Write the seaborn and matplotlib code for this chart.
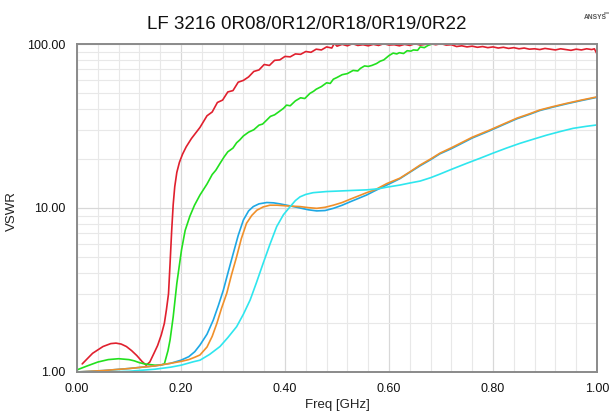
import numpy as np
import pandas as pd
import matplotlib
matplotlib.use("Agg")
import matplotlib.pyplot as plt
import matplotlib.ticker as mticker
from matplotlib.patches import Rectangle
import seaborn as sns

# ---- VSWR sweeps of the five inductor values ----
freq_0r08 = [0.01, 0.03, 0.05, 0.065, 0.075, 0.085, 0.095, 0.105, 0.115, 0.125, 0.133, 0.14,
             0.148, 0.155, 0.162, 0.168, 0.172, 0.176, 0.179, 0.182, 0.185, 0.188, 0.192,
             0.197, 0.203, 0.21, 0.22, 0.2365, 0.25, 0.26, 0.27, 0.28, 0.29, 0.30, 0.31,
             0.32, 0.33, 0.34, 0.35, 0.36, 0.37, 0.38, 0.39, 0.40, 0.41, 0.42, 0.43, 0.44,
             0.45, 0.46, 0.47, 0.48, 0.49, 0.495, 0.50, 0.51, 0.52, 0.53, 0.54, 0.55, 0.56,
             0.57, 0.58, 0.59, 0.60, 0.61, 0.62, 0.63, 0.64, 0.65, 0.66, 0.67, 0.68, 0.69,
             0.70, 0.71, 0.72, 0.73, 0.74, 0.75, 0.76, 0.77, 0.78, 0.79, 0.80, 0.81, 0.82,
             0.83, 0.84, 0.85, 0.86, 0.87, 0.88, 0.89, 0.90, 0.91, 0.92, 0.93, 0.94, 0.95,
             0.96, 0.97, 0.98, 0.99, 0.995, 1.0]
vswr_0r08 = [1.12, 1.30, 1.43, 1.49, 1.50, 1.48, 1.43, 1.35, 1.26, 1.16, 1.10, 1.15,
             1.30, 1.45, 1.68, 1.98, 2.4, 3.0, 4.6, 7.2, 10.5, 13.5, 16.5,
             19.0, 21.3, 23.6, 26.5, 31.0, 36.5, 38.5, 44.0, 45.5, 51.0, 52.0, 58.5,
             60.0, 63.0, 68.0, 69.5, 75.0, 74.0, 79.5, 80.0, 84.0, 83.5, 87.0, 86.5, 90.0,
             89.0, 93.0, 92.0, 96.0, 94.5, 101.0, 97.0, 99.5, 97.5, 100.5, 98.0, 99.0, 97.5,
             99.5, 98.0, 100.5, 98.5, 99.0, 97.5, 99.5, 98.0, 100.5, 98.5, 99.5, 100.5, 99.0,
             100.5, 98.5, 99.0, 96.5, 97.5, 96.0, 97.0, 95.5, 96.5, 95.0, 96.0, 94.5, 95.5,
             94.0, 95.0, 93.5, 94.5, 93.0, 93.5, 92.5, 94.0, 93.0, 92.0, 93.5, 92.5, 91.5,
             93.0, 92.0, 93.5, 92.5, 93.5, 87.0]

freq_0r12 = [0.0, 0.02, 0.04, 0.06, 0.08, 0.10, 0.11, 0.12, 0.13, 0.14, 0.15, 0.16, 0.168,
             0.175, 0.179, 0.185, 0.192, 0.201, 0.208, 0.217, 0.226, 0.2365, 0.25, 0.26, 0.267,
             0.275, 0.283, 0.29, 0.30, 0.307, 0.313, 0.32, 0.33, 0.34, 0.35, 0.357, 0.365,
             0.372, 0.38, 0.39, 0.397, 0.403, 0.41, 0.42, 0.43, 0.438, 0.448, 0.455, 0.46,
             0.47, 0.48, 0.487, 0.493, 0.50, 0.51, 0.52, 0.531, 0.54, 0.545, 0.553, 0.56,
             0.567, 0.576, 0.583, 0.59, 0.60, 0.608, 0.615, 0.62, 0.628, 0.635, 0.642, 0.647,
             0.655, 0.66, 0.668, 0.675, 0.685, 0.70]
vswr_0r12 = [1.03, 1.09, 1.15, 1.19, 1.205, 1.19, 1.17, 1.14, 1.12, 1.11, 1.10, 1.10, 1.12,
             1.35, 1.57, 2.17, 3.47, 5.55, 7.3, 8.9, 10.4, 12.0, 14.0, 16.0, 17.0,
             18.7, 20.5, 22.0, 23.2, 25.0, 26.0, 27.5, 29.0, 30.0, 32.0, 32.5, 34.4,
             36.2, 37.0, 39.0, 40.5, 42.4, 42.0, 45.0, 47.0, 46.5, 50.0, 51.5, 53.0,
             55.0, 58.0, 57.5, 61.0, 62.5, 65.0, 66.0, 69.0, 68.5, 71.0, 73.5, 73.0,
             74.0, 76.0, 78.5, 80.0, 85.0, 88.0, 87.0, 88.5, 87.5, 91.0, 90.5, 92.0,
             91.5, 96.0, 95.0, 98.0, 100.5, 104.0]

freq_0r18 = [0.0, 0.05, 0.10, 0.15, 0.18, 0.20, 0.215, 0.2265, 0.2365, 0.25, 0.262, 0.272,
             0.2815, 0.291, 0.3006, 0.31, 0.32, 0.33, 0.339, 0.35, 0.365, 0.378, 0.39,
             0.41, 0.429, 0.445, 0.461, 0.477, 0.493, 0.51, 0.525, 0.54, 0.557, 0.57,
             0.583, 0.60, 0.621, 0.64, 0.66, 0.68, 0.698, 0.72, 0.737, 0.76, 0.794, 0.82,
             0.846, 0.87, 0.89, 0.915, 0.942, 0.97, 1.0]
vswr_0r18 = [1.0, 1.02, 1.05, 1.09, 1.13, 1.18, 1.24, 1.33, 1.46, 1.70, 2.07, 2.55,
             3.16, 4.1, 5.3, 6.8, 8.45, 9.6, 10.2, 10.6, 10.8, 10.75, 10.6,
             10.3, 10.0, 9.75, 9.6, 9.65, 9.95, 10.4, 10.9, 11.4, 12.0, 12.6,
             13.2, 14.0, 15.1, 16.5, 18.1, 19.7, 21.4, 23.0, 24.5, 26.7, 29.6, 32.2,
             35.0, 37.2, 39.3, 41.2, 43.2, 45.2, 47.3]

freq_0r19 = [0.0, 0.05, 0.10, 0.15, 0.18, 0.20, 0.215, 0.2265, 0.2365, 0.25, 0.26, 0.269,
             0.278, 0.288, 0.297, 0.307, 0.316, 0.326, 0.336, 0.346, 0.358, 0.371, 0.385,
             0.403, 0.429, 0.445, 0.461, 0.477, 0.493, 0.51, 0.525, 0.54, 0.557, 0.575,
             0.596, 0.621, 0.64, 0.66, 0.68, 0.698, 0.72, 0.737, 0.76, 0.794, 0.82, 0.846,
             0.87, 0.89, 0.915, 0.942, 0.97, 1.0]
vswr_0r19 = [1.0, 1.02, 1.05, 1.09, 1.13, 1.16, 1.19, 1.23, 1.27, 1.42, 1.65, 1.98,
             2.45, 3.02, 3.9, 5.05, 6.5, 8.07, 9.0, 9.7, 10.15, 10.4, 10.4,
             10.3, 10.2, 10.05, 9.95, 10.1, 10.4, 10.8, 11.3, 11.8, 12.4, 13.0,
             14.1, 15.2, 16.6, 18.3, 19.9, 21.6, 23.3, 24.8, 27.0, 29.9, 32.5, 35.3,
             37.5, 39.6, 41.5, 43.5, 45.5, 47.6]

freq_0r22 = [0.0, 0.05, 0.10, 0.15, 0.18, 0.20, 0.224, 0.2365, 0.255, 0.275, 0.29, 0.307,
             0.32, 0.333, 0.345, 0.358, 0.371, 0.384, 0.397, 0.41, 0.42, 0.429, 0.44,
             0.454, 0.48, 0.506, 0.53, 0.557, 0.58, 0.596, 0.621, 0.64, 0.66, 0.68, 0.698,
             0.72, 0.749, 0.775, 0.80, 0.826, 0.852, 0.878, 0.903, 0.93, 0.954, 0.98, 1.0]
vswr_0r22 = [1.0, 1.0, 1.01, 1.04, 1.07, 1.10, 1.155, 1.18, 1.28, 1.43, 1.62, 1.89,
             2.25, 2.75, 3.5, 4.6, 6.0, 7.7, 9.1, 10.2, 11.1, 11.7, 12.1,
             12.4, 12.6, 12.7, 12.8, 12.9, 13.1, 13.4, 13.8, 14.2, 14.6, 15.3, 16.1,
             17.2, 18.7, 20.1, 21.6, 23.2, 24.8, 26.3, 27.8, 29.3, 30.6, 31.5, 32.1]

series_names = ["0R08", "0R12", "0R18", "0R19", "0R22"]
series_freq = [freq_0r08, freq_0r12, freq_0r18, freq_0r19, freq_0r22]
series_vswr = [vswr_0r08, vswr_0r12, vswr_0r18, vswr_0r19, vswr_0r22]
colors = ["#e0202e", "#22e01e", "#1ea8e4", "#f0902a", "#2ee6ee"]

y_ticks = [1, 10, 100]
x_ticks = [0.0, 0.2, 0.4, 0.6, 0.8, 1.0]

frames = []
for name, f, v in zip(series_names, series_freq, series_vswr):
    frames.append(pd.DataFrame({"freq": f, "vswr": v, "trace": name}))
df = pd.concat(frames, ignore_index=True)

sns.set_style("white")
plt.rcParams["font.family"] = ["Liberation Sans", "DejaVu Sans"]

fig = plt.figure(figsize=(6.14, 4.12), dpi=100)
ax = fig.add_axes([0.1254, 0.0971, 0.8469, 0.7961])

sns.lineplot(data=df, x="freq", y="vswr", hue="trace", hue_order=series_names,
             palette=colors, estimator=None, sort=False, linewidth=1.2,
             legend=False, ax=ax)

ax.set_yscale("log")
ax.set_xlim(0, 1)
ax.set_ylim(1, 100)

ax.set_xticks(x_ticks)
ax.xaxis.set_minor_locator(mticker.MultipleLocator(0.04))
ax.xaxis.set_major_formatter(mticker.FormatStrFormatter("%.2f"))
ax.set_yticks(y_ticks)
ax.yaxis.set_minor_locator(mticker.LogLocator(base=10, subs=np.arange(2, 10)))
ax.yaxis.set_major_formatter(mticker.FormatStrFormatter("%.2f"))
ax.yaxis.set_minor_formatter(mticker.NullFormatter())

ax.grid(which="major", color="#d8d8d8", linewidth=0.9)
ax.grid(which="minor", color="#e8e8e8", linewidth=0.8)
ax.set_axisbelow(True)

for s in ax.spines.values():
    s.set_color("#8a8a8a")
    s.set_linewidth(1.4)

ax.tick_params(which="major", direction="out", length=5, width=0.9, color="#555555",
               labelsize=9, labelcolor="#111111", pad=3)
ax.tick_params(which="minor", direction="out", length=3, width=0.8, color="#555555")
ax.tick_params(axis="x", which="both", top=False)
ax.tick_params(axis="y", which="both", right=False)

ax.set_xlabel("Freq [GHz]", fontsize=9.5, labelpad=3, color="#222222")
ax.set_ylabel("VSWR", fontsize=9.5, color="#222222")
ax.yaxis.set_label_coords(-0.113, 0.49)

fig.text(0.5, 0.94, "LF 3216 0R08/0R12/0R18/0R19/0R22", ha="center", va="center",
         fontsize=13.5, color="#111111")

# ANSYS badge in the top-right corner
fig.text(0.989, 0.958, "ANSYS", ha="right", va="center", fontsize=4.8,
         fontweight="bold", color="#555555")
fig.patches.append(Rectangle((0.983, 0.966), 0.009, 0.006, transform=fig.transFigure,
                             facecolor="#aaaaaa", edgecolor="none"))

fig.savefig("out.png", dpi=100)
